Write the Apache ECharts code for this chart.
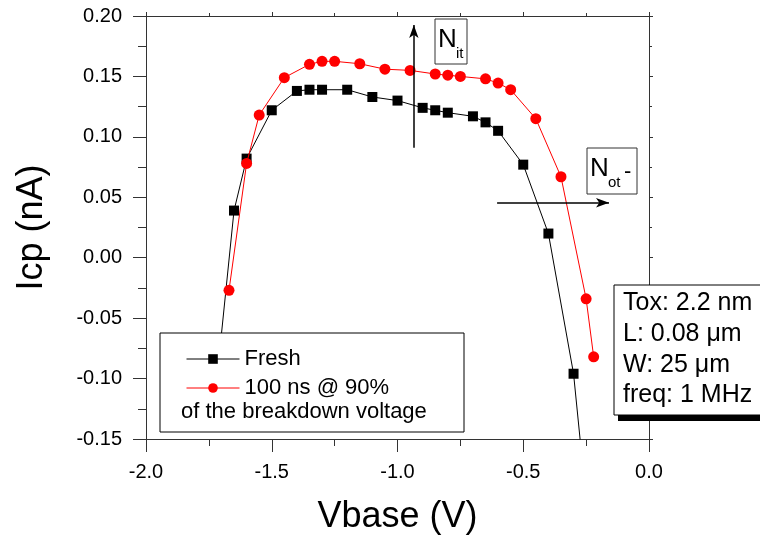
<!DOCTYPE html>
<html>
<head>
<meta charset="utf-8">
<title>Icp vs Vbase</title>
<script src="https://cdn.jsdelivr.net/npm/echarts@6/dist/echarts.min.js"></script>
<style>
	html, body { margin: 0; padding: 0; background: #fff; }
	#chart { width: 760px; height: 544px; }
</style>
</head>
<body>
<div id="chart"></div>
<script>
	var FONT = 'Liberation Sans, Arial, sans-serif';

	// fresh device
	var freshV = [ -1.72, -1.65, -1.60, -1.50, -1.40, -1.35, -1.30, -1.20, -1.10, -1.00,
			-0.90, -0.85, -0.80, -0.70, -0.65, -0.60, -0.50, -0.40, -0.30, -0.25 ];
	var freshIcp = [ -0.104, 0.039, 0.082, 0.122, 0.138, 0.139, 0.139, 0.139, 0.133, 0.130,
			0.124, 0.122, 0.120, 0.117, 0.112, 0.105, 0.077, 0.020, -0.096, -0.200 ];

	// after 100 ns stress @ 90% of breakdown voltage
	var stressV = [ -1.67, -1.60, -1.55, -1.45, -1.35, -1.30, -1.25, -1.15, -1.05, -0.95,
			-0.85, -0.80, -0.75, -0.65, -0.60, -0.55, -0.45, -0.35, -0.25, -0.22 ];
	var stressIcp = [ -0.027, 0.078, 0.118, 0.149, 0.160, 0.1625, 0.1625, 0.1605, 0.156, 0.155,
			0.152, 0.151, 0.150, 0.148, 0.1445, 0.139, 0.115, 0.067, -0.034, -0.082 ];

	var seriesNames = [ 'Fresh', '100 ns @ 90%' ];
	var xRange = [ -2.0, 0.0, 0.5 ];
	var yRange = [ -0.15, 0.20, 0.05 ];
	var infoLines = [ 'Tox: 2.2 nm', 'L: 0.08 \u03bcm', 'W: 25 \u03bcm', 'freq: 1 MHz' ];

	function zip(xs, ys) {
		var out = [];
		for (var i = 0; i < xs.length; i++) {
			out.push([ xs[i], ys[i] ]);
		}
		return out;
	}

	function frameAxis(pos, range) {
		return {
			type : 'value',
			position : pos,
			min : range[0],
			max : range[1],
			interval : range[2],
			axisLine : { onZero : false, lineStyle : { color : '#333', width : 1 } },
			axisTick : { show : true, length : 4, lineStyle : { color : '#333' } },
			minorTick : { show : true, splitNumber : 2, length : 3, lineStyle : { color : '#333' } },
			axisLabel : { show : false },
			splitLine : { show : false }
		};
	}

	var myChart = echarts.init(document.getElementById('chart'));
	var option = {
		animation : false,
		backgroundColor : '#fff',
		textStyle : { fontFamily : FONT },
		grid : { left : 146, right : 111, top : 16, bottom : 105 },
		legend : {
			data : seriesNames,
			orient : 'vertical',
			left : 181,
			top : 343,
			itemWidth : 53,
			itemHeight : 12,
			itemGap : 7,
			selectedMode : false,
			z : 20,
			lineStyle : { width : 1 },
			textStyle : { fontSize : 22, lineHeight : 22, color : '#000', fontFamily : FONT }
		},
		xAxis : [ {
			type : 'value',
			position : 'bottom',
			min : xRange[0],
			max : xRange[1],
			interval : xRange[2],
			name : 'Vbase (V)',
			nameLocation : 'middle',
			nameGap : 60,
			nameTextStyle : { fontSize : 36, color : '#000', fontFamily : FONT },
			axisLine : { onZero : false, lineStyle : { color : '#333', width : 1 } },
			axisTick : { show : true, length : 13, lineStyle : { color : '#333' } },
			minorTick : { show : true, splitNumber : 2, length : 7, lineStyle : { color : '#333' } },
			axisLabel : {
				margin : 23,
				fontSize : 20,
				color : '#000',
				fontFamily : FONT,
				formatter : function(v) { return v.toFixed(1); }
			},
			splitLine : { show : false }
		}, frameAxis('top', xRange) ],
		yAxis : [ {
			type : 'value',
			position : 'left',
			min : yRange[0],
			max : yRange[1],
			interval : yRange[2],
			name : 'Icp (nA)',
			nameLocation : 'middle',
			nameGap : 96,
			nameTextStyle : { fontSize : 36, color : '#000', fontFamily : FONT },
			axisLine : { onZero : false, lineStyle : { color : '#333', width : 1 } },
			axisTick : { show : true, length : 13, lineStyle : { color : '#333' } },
			minorTick : { show : true, splitNumber : 2, length : 8, lineStyle : { color : '#333' } },
			axisLabel : {
				margin : 24,
				fontSize : 20,
				color : '#000',
				fontFamily : FONT,
				formatter : function(v) { return v.toFixed(2); }
			},
			splitLine : { show : false }
		}, frameAxis('right', yRange) ],
		series : [ {
			name : seriesNames[0],
			type : 'line',
			data : zip(freshV, freshIcp),
			symbol : 'rect',
			symbolSize : 10,
			clip : true,
			itemStyle : { color : '#000' },
			lineStyle : { color : '#000', width : 1 },
			z : 3
		}, {
			name : seriesNames[1],
			type : 'line',
			data : zip(stressV, stressIcp),
			symbol : 'circle',
			symbolSize : 11,
			clip : true,
			itemStyle : { color : '#ff0000' },
			lineStyle : { color : '#ff0000', width : 1 },
			z : 4,
			// Nit / Not- shift arrows
			markLine : {
				silent : true,
				animation : false,
				label : { show : false },
				lineStyle : { color : '#000', width : 1.5, type : 'solid' },
				data : [ [ {
					coord : [ -0.935, 0.091 ],
					symbol : 'none'
				}, {
					coord : [ -0.935, 0.1925 ],
					symbol : 'arrow',
					symbolSize : [ 7, 13 ]
				} ], [ {
					coord : [ -0.604, 0.0455 ],
					symbol : 'none'
				}, {
					coord : [ -0.159, 0.0455 ],
					symbol : 'arrow',
					symbolSize : [ 7, 13 ]
				} ] ]
			}
		} ],
		graphic : [ {
			// legend frame
			type : 'rect',
			z : 15,
			shape : { x : 160, y : 333, width : 304, height : 99 },
			style : { fill : '#fff', stroke : '#000', lineWidth : 1 }
		}, {
			type : 'text',
			z : 21,
			x : 181,
			y : 412,
			style : { text : 'of the breakdown voltage', font : '22px ' + FONT, fill : '#000', verticalAlign : 'middle' }
		}, {
			// info box shadow + frame
			type : 'rect',
			z : 15,
			shape : { x : 618, y : 415, width : 150, height : 6 },
			style : { fill : '#000' }
		}, {
			type : 'rect',
			z : 16,
			shape : { x : 614, y : 285, width : 150, height : 130 },
			style : { fill : '#fff', stroke : '#000', lineWidth : 1 }
		}, {
			type : 'text',
			z : 17,
			x : 623,
			y : 288,
			style : { text : infoLines.join('\n'), font : '25px ' + FONT, lineHeight : 30.7, fill : '#000', verticalAlign : 'top' }
		}, {
			// N_it label
			type : 'rect',
			z : 15,
			shape : { x : 435, y : 19, width : 32, height : 45 },
			style : { fill : '#fff', stroke : '#333', lineWidth : 1 }
		}, {
			type : 'text',
			z : 16,
			x : 438,
			y : 40,
			style : { text : 'N', font : '26px ' + FONT, fill : '#000', verticalAlign : 'middle' }
		}, {
			type : 'text',
			z : 16,
			x : 456,
			y : 54,
			style : { text : 'it', font : '15px ' + FONT, fill : '#000', verticalAlign : 'middle' }
		}, {
			// N_ot- label
			type : 'rect',
			z : 15,
			shape : { x : 587, y : 148, width : 50, height : 46 },
			style : { fill : '#fff', stroke : '#333', lineWidth : 1 }
		}, {
			type : 'text',
			z : 16,
			x : 590,
			y : 169,
			style : { text : 'N', font : '26px ' + FONT, fill : '#000', verticalAlign : 'middle' }
		}, {
			type : 'text',
			z : 16,
			x : 608,
			y : 183,
			style : { text : 'ot', font : '15px ' + FONT, fill : '#000', verticalAlign : 'middle' }
		}, {
			type : 'text',
			z : 16,
			x : 624,
			y : 172,
			style : { text : '-', font : '22px ' + FONT, fill : '#000', verticalAlign : 'middle' }
		} ]
	};
	myChart.setOption(option);
</script>
</body>
</html>
